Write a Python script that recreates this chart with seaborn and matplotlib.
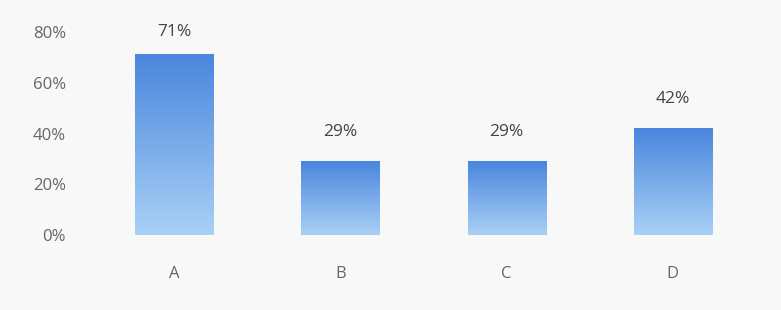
import numpy as np
import pandas as pd
import seaborn as sns
import matplotlib.pyplot as plt
from matplotlib.colors import LinearSegmentedColormap
from matplotlib.ticker import PercentFormatter

# Data
categories = ['A', 'B', 'C', 'D']
shares = [0.71, 0.29, 0.29, 0.42]
yticks = [0, 0.2, 0.4, 0.6, 0.8]

df = pd.DataFrame({'cat': categories, 'share': shares})

sns.set_theme(style="white")
plt.rcParams['font.family'] = ['Open Sans', 'DejaVu Sans']

fig = plt.figure(figsize=(7.81, 3.10), dpi=100, facecolor='#f8f8f8')
ax = fig.add_axes([91 / 781, 1 - 235 / 310, (756 - 91) / 781, (235 - 32) / 310])
ax.set_facecolor('#f8f8f8')

sns.barplot(data=df, x='cat', y='share', width=0.47, color='#5b95e3', ax=ax)

# vertical gradient on each bar: darker at top, lighter at bottom
cmap = LinearSegmentedColormap.from_list('bar', ['#a9d1f6', '#4a86dd'])
grad = np.linspace(0, 1, 256).reshape(-1, 1)
for p in ax.patches:
    x0, y0 = p.get_x(), p.get_y()
    w, h = p.get_width(), p.get_height()
    p.set_facecolor('none')
    p.set_edgecolor('none')
    ax.imshow(grad, cmap=cmap, origin='lower', aspect='auto',
              extent=[x0, x0 + w, y0, y0 + h], zorder=2)
    # keep the value label inside the plot area
    ax.text(x0 + w / 2, min(h + 0.115, 0.8), f'{h * 100:.0f}%', ha='center',
            va='center', fontsize=12.5, color='#444444')

ax.set_xlim(-0.5, 3.5)
ax.set_ylim(0, 0.8)
ax.set_yticks(yticks)
ax.yaxis.set_major_formatter(PercentFormatter(1.0, decimals=0))
ax.tick_params(axis='y', labelsize=12, labelcolor='#666666', pad=18, length=0)
ax.tick_params(axis='x', labelsize=12, labelcolor='#666666', pad=22, length=0)
ax.set_xlabel('')
ax.set_ylabel('')
sns.despine(ax=ax, left=True, bottom=True)

plt.savefig('out.png', dpi=100, facecolor=fig.get_facecolor())
